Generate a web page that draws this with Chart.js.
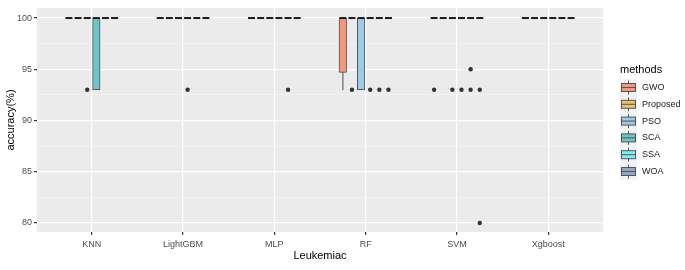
<!DOCTYPE html>
<html>
<head>
<meta charset="utf-8">
<script src="https://cdn.jsdelivr.net/npm/chart.js@4"></script>
<style>
  body { margin: 0; background: #fff; }
  canvas { display: block; }
</style>
</head>
<body>
<canvas id="chart-box" width="685" height="270"></canvas>
<script>
const categories = ['KNN', 'LightGBM', 'MLP', 'RF', 'SVM', 'Xgboost'];
const methods = ['GWO', 'Proposed', 'PSO', 'SCA', 'SSA', 'WOA'];
const fills = ['#f4977b', '#e8c26d', '#9dcbe6', '#6dc5c9', '#7ff0f0', '#8ea8c6'];
const yTicks = [80, 82.5, 85, 87.5, 90, 92.5, 95, 97.5, 100];

// rows = methods, columns = categories
const lowerHinge = [
    [100, 100, 100, 94.7, 100, 100],  // GWO
    [100, 100, 100, 100, 100, 100],   // Proposed
    [100, 100, 100, 93, 100, 100],    // PSO
    [93, 100, 100, 100, 100, 100],    // SCA
    [100, 100, 100, 100, 100, 100],   // SSA
    [100, 100, 100, 100, 100, 100],   // WOA
];
const upperHinge = [
    [100, 100, 100, 100, 100, 100],
    [100, 100, 100, 100, 100, 100],
    [100, 100, 100, 100, 100, 100],
    [100, 100, 100, 100, 100, 100],
    [100, 100, 100, 100, 100, 100],
    [100, 100, 100, 100, 100, 100],
];
const medians = [
    [100, 100, 100, 100, 100, 100],
    [100, 100, 100, 100, 100, 100],
    [100, 100, 100, 100, 100, 100],
    [100, 100, 100, 100, 100, 100],
    [100, 100, 100, 100, 100, 100],
    [100, 100, 100, 100, 100, 100],
];
const whiskerLow = [
    [100, 100, 100, 93, 100, 100],
    [100, 100, 100, 100, 100, 100],
    [100, 100, 100, 93, 100, 100],
    [93, 100, 100, 100, 100, 100],
    [100, 100, 100, 100, 100, 100],
    [100, 100, 100, 100, 100, 100],
];
// [method, category, value]
const outliers = [
    ['PSO', 'KNN', 93],
    ['SCA', 'LightGBM', 93],
    ['SSA', 'MLP', 93],
    ['Proposed', 'RF', 93], ['SCA', 'RF', 93], ['SSA', 'RF', 93], ['WOA', 'RF', 93],
    ['GWO', 'SVM', 93], ['PSO', 'SVM', 93], ['SCA', 'SVM', 93], ['SSA', 'SVM', 93],
    ['SSA', 'SVM', 95], ['WOA', 'SVM', 93], ['WOA', 'SVM', 80],
];

const FONT = '"Liberation Sans", Arial, sans-serif';

// dodge position of a method inside a category
function xPos(m, c) {
    return c + (m - (methods.length - 1) / 2) * 0.1;
}

function buildDatasets() {
    const sets = [];
    const whiskers = [];
    const meds = [];
    methods.forEach((name, m) => {
        const boxes = [];
        categories.forEach((cat, c) => {
            const x = xPos(m, c);
            if (lowerHinge[m][c] < upperHinge[m][c]) {
                boxes.push({ x: x, y: [lowerHinge[m][c], upperHinge[m][c]] });
            }
            if (whiskerLow[m][c] < lowerHinge[m][c]) {
                whiskers.push({ x: x, y: [whiskerLow[m][c], lowerHinge[m][c]] });
            }
            meds.push({ x: x, y: medians[m][c] });
        });
        sets.push({
            type: 'bar',
            label: name,
            data: boxes,
            grouped: false,
            barThickness: 7.5,
            backgroundColor: fills[m],
            borderColor: '#555555',
            borderWidth: 1,
            borderSkipped: false,
            order: 3
        });
    });
    sets.unshift({
        type: 'bar',
        label: 'whiskers',
        data: whiskers,
        grouped: false,
        barThickness: 1,
        backgroundColor: '#8c8c8c',
        borderWidth: 0,
        order: 4
    });
    sets.push({
        type: 'scatter',
        label: 'medians',
        data: meds,
        pointStyle: 'line',
        radius: 3.5,
        borderWidth: 2,
        borderColor: '#1a1a1a',
        order: 2
    });
    sets.push({
        type: 'scatter',
        label: 'outliers',
        data: outliers.map(o => ({ x: xPos(methods.indexOf(o[0]), categories.indexOf(o[1])), y: o[2] })),
        pointStyle: 'circle',
        radius: 2.2,
        backgroundColor: '#333333',
        borderWidth: 0,
        order: 1
    });
    return sets;
}

const panelBg = {
    id: 'panelBg',
    beforeDraw(chart) {
        const { ctx, chartArea: a } = chart;
        ctx.save();
        ctx.fillStyle = '#ffffff';
        ctx.fillRect(0, 0, chart.width, chart.height);
        ctx.fillStyle = '#ebebeb';
        ctx.fillRect(a.left, a.top, a.right - a.left, a.bottom - a.top);
        ctx.restore();
    }
};

const boxLegend = {
    id: 'boxLegend',
    afterDraw(chart) {
        const ctx = chart.ctx;
        const x0 = chart.chartArea.right + 17;
        ctx.save();
        ctx.textBaseline = 'middle';
        ctx.fillStyle = '#000';
        ctx.font = '11px ' + FONT;
        ctx.fillText('methods', x0, 69.5);
        methods.forEach((name, i) => {
            const cy = 87.5 + i * 16.8;
            ctx.fillStyle = '#f2f2f2';
            ctx.fillRect(x0, cy - 8.4, 17, 16.8);
            ctx.strokeStyle = '#555555';
            ctx.lineWidth = 1;
            ctx.beginPath();
            ctx.moveTo(x0 + 8.5, cy - 7);
            ctx.lineTo(x0 + 8.5, cy + 7);
            ctx.stroke();
            ctx.fillStyle = fills[i];
            ctx.fillRect(x0 + 1.5, cy - 4, 14, 8);
            ctx.strokeRect(x0 + 1.5, cy - 4, 14, 8);
            ctx.beginPath();
            ctx.moveTo(x0 + 1.5, cy);
            ctx.lineTo(x0 + 15.5, cy);
            ctx.stroke();
            ctx.fillStyle = '#1a1a1a';
            ctx.font = '9px ' + FONT;
            ctx.fillText(name, x0 + 22, cy);
        });
        ctx.restore();
    }
};

function renderChart() {
    new Chart('chart-box', {
        type: 'bar',
        data: { datasets: buildDatasets() },
        plugins: [panelBg, boxLegend],
        options: {
            responsive: false,
            devicePixelRatio: 1,
            animation: false,
            layout: { padding: { top: 8, right: 82, left: 0, bottom: 0 } },
            plugins: { legend: { display: false }, tooltip: { enabled: false } },
            scales: {
                x: {
                    type: 'linear',
                    offset: false,
                    min: -0.6,
                    max: categories.length - 0.4,
                    afterBuildTicks: s => { s.ticks = categories.map((c, i) => ({ value: i })); },
                    afterFit: s => { s.height = 38; },
                    ticks: {
                        callback: v => categories[v],
                        font: { family: FONT, size: 9 },
                        color: '#4d4d4d',
                        padding: 4,
                        maxRotation: 0,
                        autoSkip: false
                    },
                    grid: { offset: false, color: '#ffffff', lineWidth: 1.2, tickLength: 3, tickColor: '#333333' },
                    border: { display: false },
                    title: {
                        display: true,
                        text: 'Leukemiac',
                        font: { family: FONT, size: 11 },
                        color: '#000',
                        padding: { top: 0, bottom: 7 }
                    }
                },
                y: {
                    min: 79.12,
                    max: 100.98,
                    afterBuildTicks: s => { s.ticks = yTicks.map(v => ({ value: v })); },
                    afterFit: s => { s.width = 37; },
                    ticks: {
                        callback: v => (v % 5 === 0 ? v : ''),
                        font: { family: FONT, size: 9 },
                        color: '#4d4d4d',
                        padding: 2
                    },
                    grid: {
                        color: c => (c.tick && c.tick.value % 5 === 0 ? '#ffffff' : 'rgba(255,255,255,0.7)'),
                        lineWidth: c => (c.tick && c.tick.value % 5 === 0 ? 1.2 : 0.6),
                        tickLength: 3,
                        tickColor: c => (c.tick && c.tick.value % 5 === 0 ? '#333333' : 'rgba(0,0,0,0)')
                    },
                    border: { display: false },
                    title: {
                        display: true,
                        text: 'accuracy(%)',
                        font: { family: FONT, size: 11 },
                        color: '#000',
                        padding: { top: 4, bottom: 0 }
                    }
                }
            }
        }
    });
}

renderChart();
</script>
</body>
</html>
